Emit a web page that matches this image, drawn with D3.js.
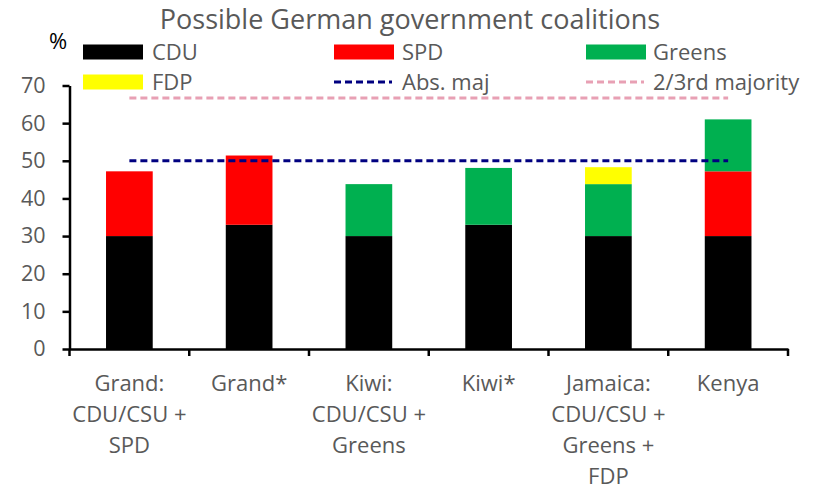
<!DOCTYPE html>
<html>
<head>
<meta charset="utf-8">
<script src="https://cdn.jsdelivr.net/npm/d3@7"></script>
<style>
  html, body { margin: 0; padding: 0; background: #fff; }
  text { font-family: "Open Sans", sans-serif; }
</style>
</head>
<body>
<svg id="chart" width="824" height="489"></svg>
<script>
// ---- data ----
const categories = [
  "Grand:\nCDU/CSU +\nSPD",
  "Grand*",
  "Kiwi:\nCDU/CSU +\nGreens",
  "Kiwi*",
  "Jamaica:\nCDU/CSU +\nGreens +\nFDP",
  "Kenya"
];
const seriesNames = ["CDU", "SPD", "Greens", "FDP"];
const cdu    = [30, 33, 30, 33, 30, 30];
const spd    = [17.2, 18.4, 0, 0, 0, 17.2];
const greens = [0, 0, 13.8, 15.1, 13.8, 13.8];
const fdp    = [0, 0, 0, 0, 4.5, 0];
const absMajority = 50;
const twoThirdMajority = 66.7;
const yTicks = [0, 10, 20, 30, 40, 50, 60, 70];
const title = "Possible German government coalitions";

// ---- styles ----
const colors = { CDU: "#000000", SPD: "#FF0000", Greens: "#00B050", FDP: "#FFFF00" };
const absColor = "#000080";
const twoThirdColor = "#E8A0B4";
const textColor = "#595959";

const svg = d3.select("#chart");

const x = d3.scaleBand().domain(categories).range([69.5, 788]).padding(0);
const y = d3.scaleLinear().domain([0, 70]).range([349, 85.5]);
const barW = x.bandwidth() * 0.39;

const rows = categories.map((c, i) => ({ cat: c, CDU: cdu[i], SPD: spd[i], Greens: greens[i], FDP: fdp[i] }));
const stack = d3.stack().keys(seriesNames)(rows);

// Title
svg.append("text")
  .attr("x", 410).attr("y", 29)
  .attr("text-anchor", "middle")
  .attr("fill", textColor)
  .style("font-size", "27px")
  .text(title);

// % label
svg.append("text")
  .attr("x", 58).attr("y", 49)
  .attr("text-anchor", "middle")
  .attr("fill", "#000")
  .style("font-size", "22px")
  .text("%");

// Bars
svg.append("g").selectAll("g")
  .data(stack).join("g")
  .attr("fill", d => colors[d.key])
  .selectAll("rect")
  .data(d => d.filter(s => s[1] - s[0] > 0))
  .join("rect")
  .attr("x", d => x(d.data.cat) + x.bandwidth() / 2 - barW / 2)
  .attr("width", barW)
  .attr("y", d => y(d[1]))
  .attr("height", d => y(d[0]) - y(d[1]));

// Reference lines
const first = categories[0], last = categories[categories.length - 1];
const lineGen = d3.line().x(d => x(d[0]) + x.bandwidth() / 2).y(d => y(d[1]));
svg.append("path")
  .attr("d", lineGen([[first, twoThirdMajority], [last, twoThirdMajority]]))
  .attr("stroke", twoThirdColor).attr("stroke-width", 3)
  .attr("stroke-dasharray", "7,4").attr("fill", "none");
svg.append("path")
  .attr("d", lineGen([[first, absMajority], [last, absMajority]]))
  .attr("stroke", absColor).attr("stroke-width", 3)
  .attr("stroke-dasharray", "7,4").attr("fill", "none");

// Y axis
const yAxis = svg.append("g")
  .attr("transform", "translate(69.5,0)")
  .call(d3.axisLeft(y).tickValues(yTicks).tickSize(7).tickPadding(17).tickSizeOuter(0));
yAxis.select(".domain").attr("stroke", "#000").attr("stroke-width", 2.5);
yAxis.selectAll(".tick line").attr("stroke", "#000").attr("stroke-width", 2.5);
yAxis.selectAll(".tick text").attr("fill", textColor).style("font-size", "21.5px")
  .style("font-family", "'Open Sans', sans-serif");

// X axis
const xAxis = svg.append("g")
  .attr("transform", `translate(0,${y(0)})`)
  .call(d3.axisBottom(x).tickValues([]).tickSizeOuter(0));
xAxis.select(".domain").attr("stroke", "#000").attr("stroke-width", 2.5);
// category boundary ticks
const boundaries = categories.map(c => x(c)).concat([x(last) + x.bandwidth()]);
xAxis.selectAll(".btick").data(boundaries).join("line")
  .attr("x1", d => d).attr("x2", d => d)
  .attr("y1", 0).attr("y2", 7)
  .attr("stroke", "#000").attr("stroke-width", 2.5);
// category labels
const lab = svg.append("g").selectAll("text")
  .data(categories).join("text")
  .attr("text-anchor", "middle")
  .attr("fill", textColor)
  .style("font-size", "22px")
  .attr("transform", d => `translate(${x(d) + x.bandwidth() / 2},391)`);
lab.selectAll("tspan")
  .data(d => d.split("\n")).join("tspan")
  .attr("x", 0).attr("y", (d, i) => i * 31)
  .text(d => d);

// Legend
const legendItems = [
  { name: "CDU", type: "rect", color: colors.CDU, sx: 83, tx: 152, yy: 52 },
  { name: "SPD", type: "rect", color: colors.SPD, sx: 334, tx: 402, yy: 52 },
  { name: "Greens", type: "rect", color: colors.Greens, sx: 586, tx: 653, yy: 52 },
  { name: "FDP", type: "rect", color: colors.FDP, sx: 83, tx: 152, yy: 82 },
  { name: "Abs. maj", type: "line", color: absColor, sx: 334, tx: 402, yy: 82 },
  { name: "2/3rd majority", type: "line", color: twoThirdColor, sx: 586, tx: 653, yy: 82 }
];
const lg = svg.append("g");
legendItems.forEach(it => {
  if (it.type === "rect") {
    lg.append("rect").attr("x", it.sx).attr("y", it.yy - 7.5).attr("width", 60).attr("height", 15).attr("fill", it.color);
  } else {
    lg.append("line").attr("x1", it.sx).attr("x2", it.sx + 58).attr("y1", it.yy).attr("y2", it.yy)
      .attr("stroke", it.color).attr("stroke-width", 3).attr("stroke-dasharray", "7,4");
  }
  lg.append("text").attr("x", it.tx).attr("y", it.yy + 8)
    .attr("fill", textColor).style("font-size", "22px").text(it.name);
});
</script>
</body>
</html>
